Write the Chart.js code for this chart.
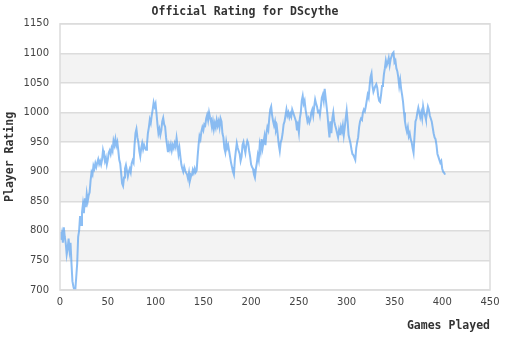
<!DOCTYPE html>
<html lang="en">
<head>
  <meta charset="UTF-8">
  <title>Official Rating for DScythe</title>
  <script src="https://cdn.jsdelivr.net/npm/chart.js"></script>
  <style>
    html, body {
      margin: 0;
      padding: 0;
      background: #fff;
    }
    #wrap {
      width: 510px;
      height: 340px;
    }
  </style>
</head>
<body>
  <div id="wrap"><canvas id="ratingChart" width="510" height="340"></canvas></div>

  <script>
    // rating after each game, index = games played
    const ratings = [
      798, 785, 795, 780, 806, 790, 779, 760, 770, 787,
      767, 780, 745, 715, 706, 700, 700, 722, 745, 790,
      800, 825, 810, 831, 845, 830, 855, 840, 862, 850,
      860, 865, 885, 899, 895, 910, 905, 914, 908, 915,
      921, 913, 918, 912, 920, 936, 928, 918, 924, 912,
      920, 932, 936, 930, 940, 935, 952, 945, 955, 944,
      950, 936, 920, 914, 897, 880, 876, 890, 905, 911,
      902, 892, 900, 905, 899, 914, 919, 915, 945, 965,
      972, 958, 950, 935, 926, 940, 948, 938, 945, 940,
      937, 946, 965, 975, 988, 982, 995, 1005, 1017, 1010,
      1015, 998, 980, 965, 972, 962, 970, 985, 991, 980,
      976, 958, 945, 933, 945, 938, 946, 936, 945, 940,
      948, 942, 957, 945, 930, 940, 925, 912, 905, 900,
      908, 902, 898, 895, 888, 898, 885, 892, 894, 903,
      898, 905, 899, 902, 925, 945, 960, 955, 968, 975,
      970, 980, 978, 990, 996, 987, 1000, 992, 985, 975,
      985, 972, 982, 975, 987, 978, 985, 975, 990, 985,
      965, 958, 940, 933, 950, 940, 945, 935, 925, 915,
      908, 900, 895, 920, 935, 948, 940, 935, 930, 918,
      925, 945, 950, 940, 932, 945, 952, 948, 935, 925,
      912, 908, 905, 895, 890, 905, 915, 928, 920, 945,
      935, 955, 940, 950, 960, 945, 965, 975, 970, 990,
      1005, 1010, 995, 985, 978, 985, 970, 975, 960, 945,
      935, 950, 955, 965, 980, 985, 995, 1005, 995, 1000,
      992, 998, 993, 1005, 1000, 995, 990, 985, 970, 978,
      966, 990, 1000, 1020, 1028, 1015, 1020, 1005, 995, 985,
      990, 983, 988, 1000, 1005, 995, 1010, 1022, 1015, 1010,
      1000, 1005, 996, 1010, 1025, 1030, 1020, 1040, 1025, 1010,
      995, 975, 958, 985, 965, 990, 1000, 985, 978, 972,
      965, 958, 970, 962, 975, 968, 978, 962, 975, 990,
      1003, 985, 962, 955, 948, 938, 930, 928, 924, 920,
      940, 950, 958, 975, 985, 990, 988, 1000, 1005, 1002,
      1010, 1020, 1030, 1025, 1045, 1060, 1066, 1045, 1035, 1040,
      1045, 1048, 1042, 1028, 1020, 1018, 1030, 1045, 1048, 1065,
      1075, 1088, 1080, 1085, 1092, 1080, 1090, 1095, 1100, 1102,
      1085, 1088, 1075, 1070, 1060, 1045, 1055, 1040, 1030, 1018,
      1000, 985, 975, 968, 975, 960, 965, 955, 950, 940,
      932, 960, 985, 990, 1000, 1008, 1000, 992, 1000, 990,
      1010, 1000, 995, 988, 1000, 1010, 1005, 995, 990, 985,
      975, 965, 958, 955, 945, 930, 925, 920, 915, 918,
      905, 900, 898, 895
    ];
    const games = ratings.map((r, i) => i);

    const xTicks = [0, 50, 100, 150, 200, 250, 300, 350, 400, 450];
    const yTicks = [700, 750, 800, 850, 900, 950, 1000, 1050, 1100, 1150];
    const shadedBands = [[750, 800], [850, 900], [950, 1000], [1050, 1100]];

    const points = games.map((g, i) => ({ x: g, y: ratings[i] }));

    // grey bands and the frame round the plot
    const bandPlugin = {
      id: 'bands',
      beforeDraw(chart) {
        const { ctx, chartArea, scales } = chart;
        ctx.save();
        ctx.fillStyle = '#f3f3f3';
        shadedBands.forEach(b => {
          const y1 = scales.y.getPixelForValue(b[1]);
          const y0 = scales.y.getPixelForValue(b[0]);
          ctx.fillRect(chartArea.left, y1, chartArea.right - chartArea.left, y0 - y1);
        });
        ctx.restore();
      },
      afterDatasetsDraw(chart) {
        const { ctx, chartArea } = chart;
        ctx.save();
        ctx.strokeStyle = '#dcdcdc';
        ctx.lineWidth = 1.5;
        ctx.strokeRect(chartArea.left, chartArea.top, chartArea.right - chartArea.left, chartArea.bottom - chartArea.top);
        ctx.restore();
      }
    };

    const monoBold = { family: 'DejaVu Sans Mono', size: 11.5, weight: 'bold' };
    const tickFont = { family: 'DejaVu Sans', size: 10 };

    const ctx = document.getElementById('ratingChart').getContext('2d');
    new Chart(ctx, {
      type: 'line',
      data: {
        datasets: [{
          data: points,
          borderColor: 'rgba(95, 165, 240, 0.72)',
          borderWidth: 2,
          pointRadius: 0,
          tension: 0,
          fill: false
        }]
      },
      plugins: [bandPlugin],
      options: {
        responsive: false,
        animation: false,
        layout: { padding: { top: 0, right: 20, bottom: 0, left: 0 } },
        plugins: {
          legend: { display: false },
          tooltip: { enabled: false },
          title: {
            display: true,
            text: 'Official Rating for DScythe',
            color: '#333',
            font: monoBold,
            padding: { top: 5, bottom: 5 }
          }
        },
        scales: {
          x: {
            type: 'linear',
            min: 0,
            max: 450,
            afterBuildTicks(scale) {
              scale.ticks = xTicks.map(v => ({ value: v }));
            },
            afterFit(scale) {
              scale.height = 50;
            },
            grid: { display: false, drawTicks: false },
            border: { display: false },
            ticks: {
              color: '#444',
              font: tickFont,
              padding: 6,
              maxRotation: 0,
              callback: v => String(v)
            },
            title: {
              display: true,
              text: 'Games Played',
              align: 'end',
              color: '#333',
              font: monoBold,
              padding: { top: 6, bottom: 7 }
            }
          },
          y: {
            min: 700,
            max: 1150,
            afterBuildTicks(scale) {
              scale.ticks = yTicks.map(v => ({ value: v }));
            },
            afterFit(scale) {
              scale.width = 60;
            },
            grid: { color: '#dcdcdc', lineWidth: 1.5, drawTicks: false },
            border: { display: false },
            ticks: {
              color: '#444',
              font: tickFont,
              padding: 11,
              callback: v => String(v)
            },
            title: {
              display: true,
              text: 'Player Rating',
              color: '#333',
              font: monoBold,
              padding: { top: 3, bottom: 6 }
            }
          }
        }
      }
    });
  </script>
</body>
</html>
